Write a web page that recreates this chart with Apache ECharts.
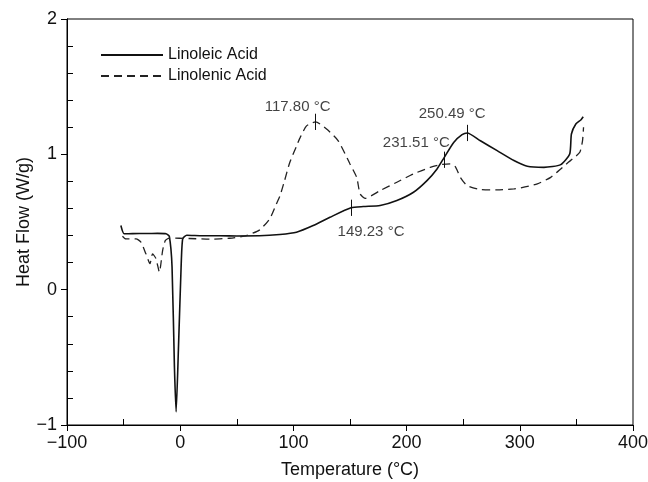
<!DOCTYPE html>
<html>
<head>
<meta charset="utf-8">
<script src="https://cdn.jsdelivr.net/npm/echarts@6/dist/echarts.min.js"></script>
<style>
  html, body { margin: 0; padding: 0; background: #fff; }
  #main { width: 648px; height: 482px; }
</style>
</head>
<body>
<div id="main"></div>
<script>
// DSC curves
const linoleicT = [-52.4, -49.5, -42, -30, -20, -12.5, -9.6, -7.2, -5.1, -3.6, -1.6, 0.8, 2.2, 5.8, 20, 35, 50, 70, 88, 102.7, 117.5, 132.3, 150.9, 161.8, 176.6, 191.4, 206.1, 218, 226.9, 233.3, 241.6, 249, 253.5, 265.2, 280, 294.8, 306.6, 321.3, 336.2, 344.1, 345.6, 349.5, 353.9, 356];
const linoleicHF = [0.474, 0.413, 0.414, 0.415, 0.416, 0.413, 0.393, 0.167, -0.571, -0.903, -0.448, 0.167, 0.376, 0.402, 0.398, 0.398, 0.397, 0.398, 0.408, 0.425, 0.474, 0.535, 0.605, 0.614, 0.622, 0.659, 0.72, 0.806, 0.892, 0.978, 1.088, 1.145, 1.158, 1.10, 1.027, 0.954, 0.912, 0.904, 0.924, 1.003, 1.15, 1.224, 1.254, 1.278];

const linolenicT = [-51, -48, -39, -34.7, -30.3, -26.7, -24.4, -21.4, -18.4, -15.5, -13.1, -9.6, 8, 26, 43.7, 58.4, 70.2, 79.1, 85, 88, 92, 96.8, 102.7, 105.7, 111.6, 119.6, 129.3, 139.6, 150, 155.9, 158.9, 163.3, 176.6, 191.4, 206, 220.9, 229.8, 238.7, 243, 247.5, 253.5, 265, 280, 294.8, 300.7, 315.5, 327.3, 337.7, 346.5, 353, 355.4, 356.3];
const linolenicHF = [0.395, 0.375, 0.376, 0.351, 0.265, 0.192, 0.265, 0.229, 0.13, 0.29, 0.364, 0.381, 0.378, 0.373, 0.38, 0.40, 0.442, 0.524, 0.634, 0.69, 0.80, 0.94, 1.06, 1.12, 1.21, 1.24, 1.187, 1.10, 0.929, 0.83, 0.708, 0.675, 0.732, 0.794, 0.855, 0.904, 0.924, 0.929, 0.909, 0.83, 0.769, 0.74, 0.737, 0.745, 0.752, 0.782, 0.83, 0.904, 0.966, 1.015, 1.10, 1.2];

// peak / onset markers
const markT = [119.6, 150.9, 233.3, 253.5];
const markHF = [1.24, 0.605, 0.96, 1.158];
const markLabels = ['117.80 °C', '149.23 °C', '231.51 °C', '250.49 °C'];
const markOffsets = [[-18, -15], [20, 24], [-28, -17], [-15, -19]];

const font = "'Liberation Sans Narrow', 'Liberation Sans', Arial, sans-serif";
const minus = v => String(v).replace('-', '\u2212');

function pairs(xs, ys) {
  return xs.map((x, i) => [x, ys[i]]);
}

const chart = echarts.init(document.getElementById('main'));

const baseX = {
  type: 'value', min: -100, max: 400, interval: 100,
  axisLine: { show: true, onZero: false, lineStyle: { color: '#000', width: 1 } },
  splitLine: { show: false }
};
const baseY = {
  type: 'value', min: -1, max: 2, interval: 1,
  axisLine: { show: true, onZero: false, lineStyle: { color: '#000', width: 1 } },
  splitLine: { show: false }
};

chart.setOption({
  animation: false,
  backgroundColor: '#fff',
  grid: {
    left: 67, right: 15, top: 19, bottom: 57, outerBoundsMode: 'none',
    show: true, borderColor: '#000', borderWidth: 1
  },
  legend: {
    data: ['Linoleic Acid', 'Linolenic Acid'],
    orient: 'vertical', left: 95, top: 42,
    itemWidth: 62, itemHeight: 14, itemGap: 5,
    itemStyle: { opacity: 0 },
    textStyle: { fontFamily: font, fontSize: 16, lineHeight: 16, color: '#111' }
  },
  xAxis: [
    Object.assign({}, baseX, {
      name: 'Temperature (°C)', nameLocation: 'middle', nameGap: 36, nameMoveOverlap: false,
      nameTextStyle: { fontFamily: font, fontSize: 18, color: '#111' },
      axisTick: { show: true, inside: false, length: 6, lineStyle: { color: '#000' } },
      axisLabel: { fontFamily: font, fontSize: 18, color: '#111', margin: 9, formatter: minus }
    }),
    Object.assign({}, baseX, {
      interval: 50, position: 'bottom',
      axisTick: { show: true, inside: true, length: 6, customValues: [-50, 50, 150, 250, 350], lineStyle: { color: '#000' } },
      axisLabel: { show: false }
    })
  ],
  yAxis: [
    Object.assign({}, baseY, {
      name: 'Heat Flow (W/g)', nameLocation: 'middle', nameGap: 34, nameMoveOverlap: false,
      nameTextStyle: { fontFamily: font, fontSize: 18, color: '#111' },
      axisTick: { show: true, inside: false, length: 6, lineStyle: { color: '#000' } },
      axisLabel: { fontFamily: font, fontSize: 18, color: '#111', margin: 10, formatter: minus }
    }),
    Object.assign({}, baseY, {
      interval: 0.2, position: 'left',
      axisTick: { show: true, inside: true, length: 6, customValues: [-0.8, -0.6, -0.4, -0.2, 0.2, 0.4, 0.6, 0.8, 1.2, 1.4, 1.6, 1.8], lineStyle: { color: '#000' } },
      axisLabel: { show: false }
    })
  ],
  series: [
    {
      name: 'Linoleic Acid', type: 'line', symbol: 'none', smooth: 0.2,
      data: pairs(linoleicT, linoleicHF),
      lineStyle: { color: '#111', width: 1.6 },
      itemStyle: { color: '#111' }
    },
    {
      name: 'Linolenic Acid', type: 'line', symbol: 'none', smooth: 0.2,
      data: pairs(linolenicT, linolenicHF),
      lineStyle: { color: '#222', width: 1.3, type: [8, 5] },
      itemStyle: { color: '#222' }
    },
    {
      name: 'marks', type: 'scatter', symbolSize: 0, silent: true,
      data: markT.map((t, i) => ({
        value: [t, markHF[i]],
        label: {
          show: true, position: 'inside', formatter: markLabels[i], offset: markOffsets[i],
          fontFamily: font, fontSize: 15, color: '#111'
        }
      })),
      markLine: {
        silent: true, symbol: 'none', label: { show: false },
        lineStyle: { color: '#111', width: 1, type: 'solid' },
        data: markT.map((t, i) => [{ coord: [t, markHF[i] - 0.06] }, { coord: [t, markHF[i] + 0.06] }])
      }
    }
  ]
});
</script>
</body>
</html>
